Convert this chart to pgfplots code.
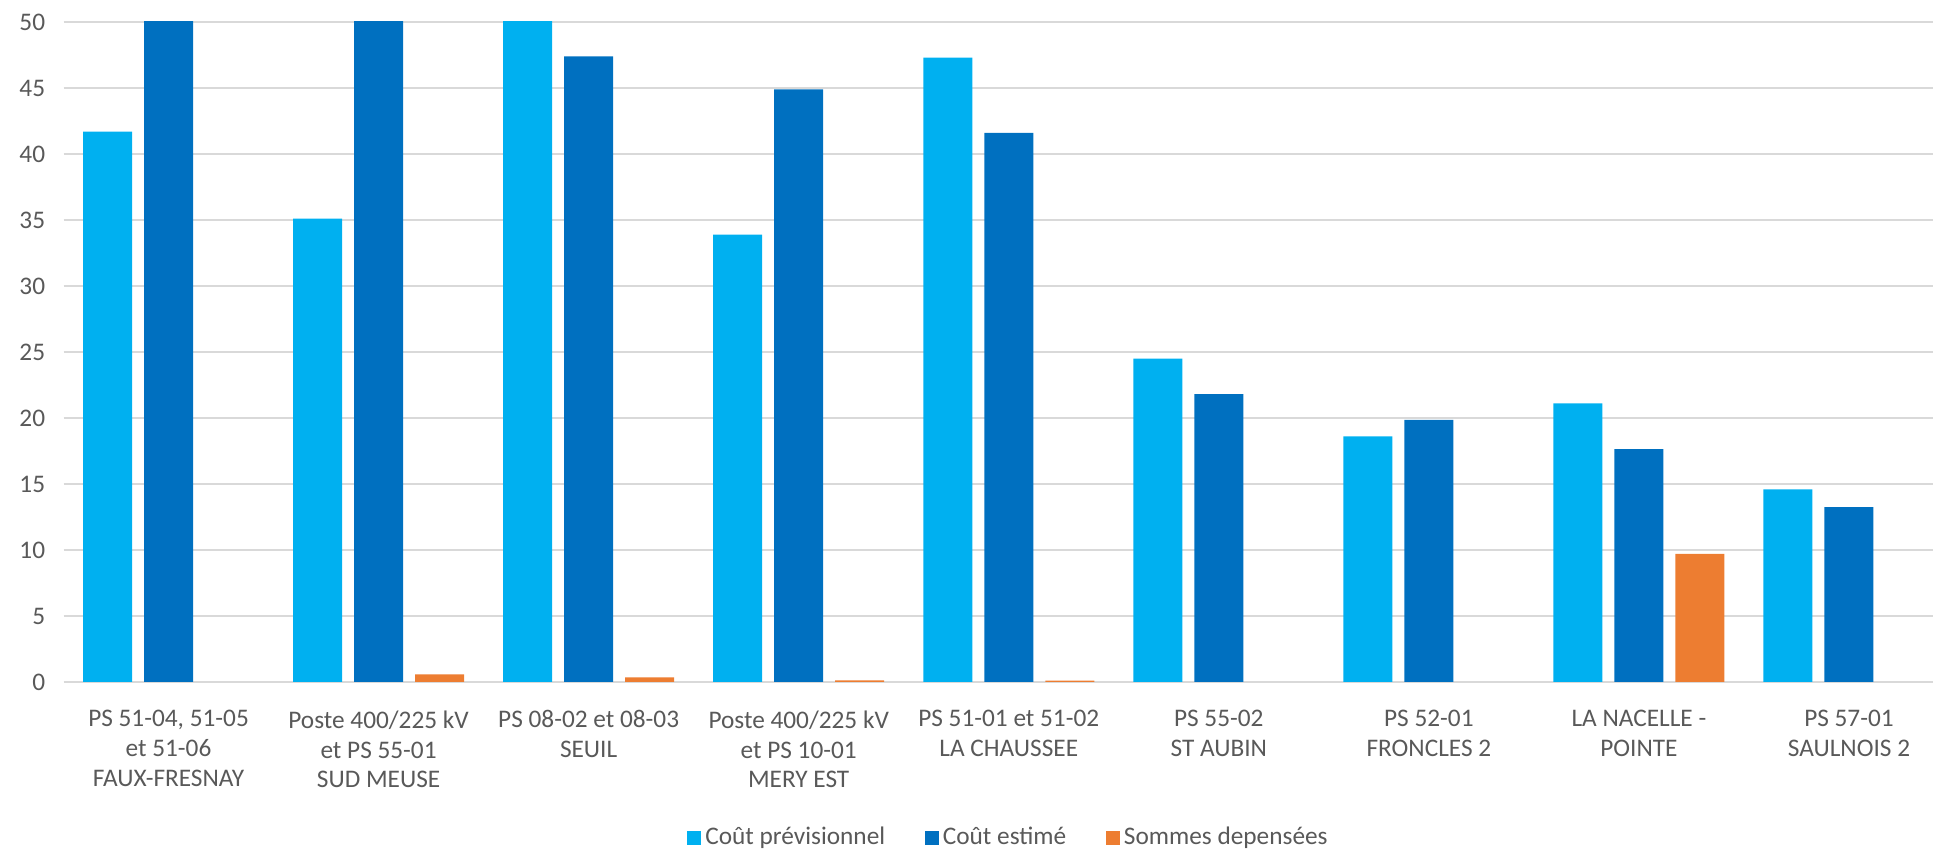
\documentclass[border=0pt]{standalone}
\usepackage{pgfplots}
\pgfplotsset{compat=1.18}
\usepackage{pgfplotstable}
\usepackage{fontspec}
\setmainfont{Carlito}
\usetikzlibrary{calc}

\definecolor{prev}{HTML}{00B0F0}
\definecolor{esti}{HTML}{0070C0}
\definecolor{depe}{HTML}{ED7D31}
\definecolor{txt}{HTML}{595959}
\definecolor{grd}{HTML}{D9D9D9}

% cost per substation (values above 50 are cut by the axis, nan = no bar)
\pgfplotstableread{
x  prev   esti   depe
0  41.7   55     nan
1  35.1   55     0.58
2  55     47.4   0.34
3  33.9   44.9   0.13
4  47.3   41.6   0.10
5  24.5   21.8   nan
6  18.6   19.85  nan
7  21.1   17.65  9.7
8  14.6   13.25  nan
}\couts

\begin{document}
\begin{tikzpicture}
  \begin{axis}[
    name=ax,
    scale only axis,
    width=186.95mm, height=66mm,
    xmin=-0.5, xmax=8.4,
    ymin=0, ymax=50,
    ybar=1.2mm,
    bar width=4.9mm,
    axis line style={draw=none},
    ytick={0,5,...,50},
    xtick={0,...,8},
    xticklabels={
      {PS 51-04, 51-05\\et 51-06\\FAUX-FRESNAY},
      {Poste 400/225 kV\\et PS 55-01\\SUD MEUSE},
      {PS 08-02 et 08-03\\SEUIL},
      {Poste 400/225 kV\\et PS 10-01\\MERY EST},
      {PS 51-01 et 51-02\\LA CHAUSSEE},
      {PS 55-02\\ST AUBIN},
      {PS 52-01\\FRONCLES 2},
      {LA NACELLE -\\POINTE},
      {PS 57-01\\SAULNOIS 2}},
    major tick length=0pt,
    ymajorgrids,
    grid style={grd, line width=0.6pt},
    /pgf/number format/assume math mode=true,
    tick label style={font=\fontsize{7.2}{8.5}\selectfont, text=txt},
    xticklabel style={align=center, yshift=-4.6pt},
    yticklabel style={xshift=-1.7pt},
    unbounded coords=discard,
    legend columns=3,
    legend style={
      draw=none,
      at={(0.506,-0.237)},
      anchor=center,
      font=\fontsize{7.2}{8.5}\selectfont,
      text=txt,
      nodes={inner sep=1.2pt},
      /tikz/every even column/.append style={column sep=10pt}},
    legend image code/.code={\fill[#1] (0pt,-2pt) rectangle (4pt,2pt);},
  ]
    \addplot[fill=prev, draw=none] table[x=x, y=prev] {\couts};
    \addplot[fill=esti, draw=none] table[x=x, y=esti] {\couts};
    \addplot[fill=depe, draw=none] table[x=x, y=depe] {\couts};
    \legend{Coût prévisionnel, Coût estimé, Sommes depensées}
  \end{axis}
  \pgfresetboundingbox
  \path[use as bounding box] ($(ax.south west)+(-6.35mm,-16.9mm)$) rectangle ($(ax.north east)+(0,2.2mm)$);
\end{tikzpicture}
\end{document}
